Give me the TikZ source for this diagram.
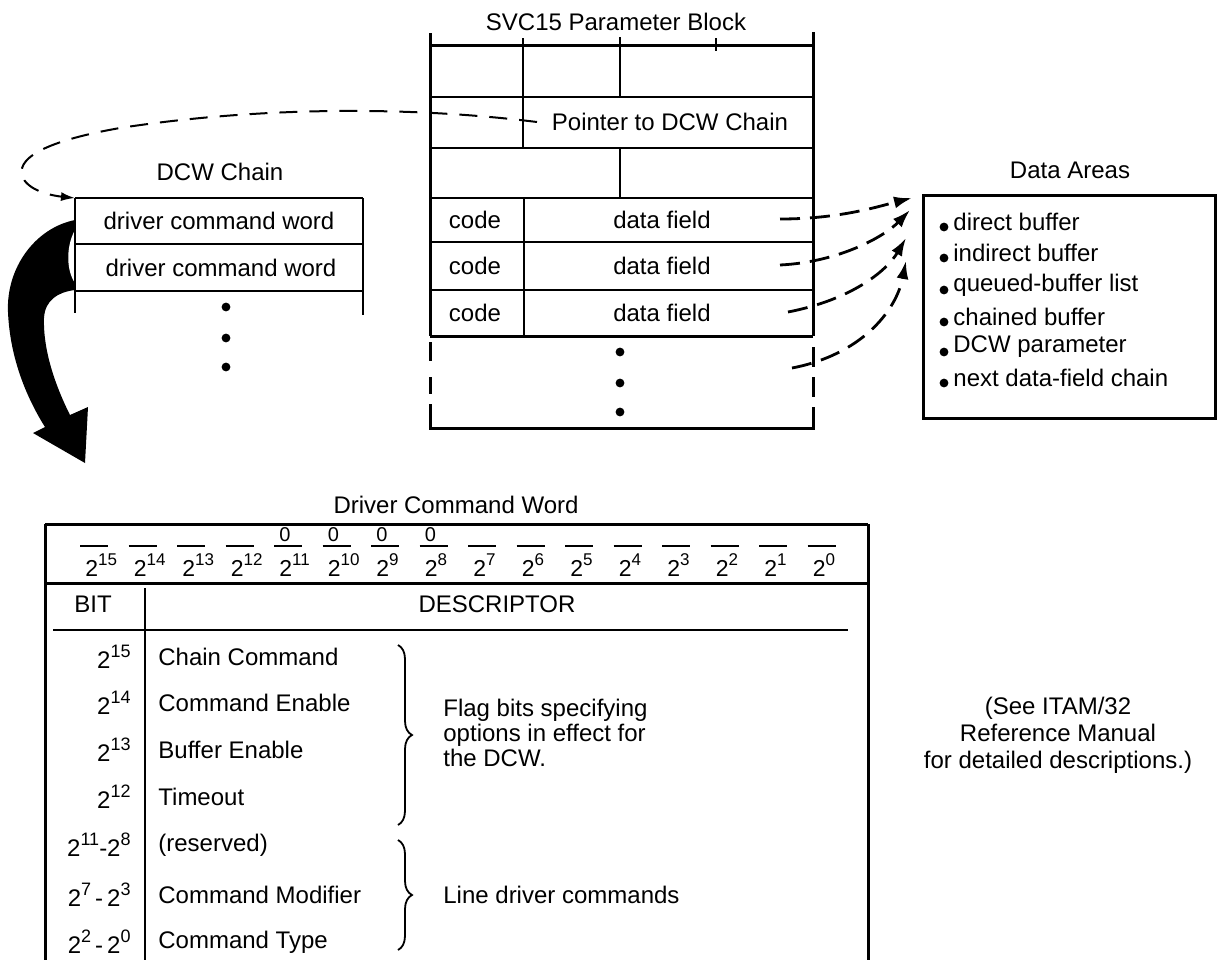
\documentclass[tikz,border=0pt]{standalone}
\usepackage{fontspec}
\setmainfont{Liberation Sans}
\usetikzlibrary{arrows.meta,decorations.pathreplacing}
\newcommand\pw[1]{\raisebox{0.45em}{\fontsize{9}{9}\selectfont #1}}
\newcommand\hw[1]{\raisebox{0.5em}{\fontsize{8.5}{8.5}\selectfont #1}}
\begin{document}
\begin{tikzpicture}[x=0.5pt,y=-0.5pt,
  every node/.style={font=\fontsize{12}{14}\selectfont, inner sep=0pt},
  border/.style={line width=1.5pt},
  inner/.style={line width=1pt},
  dasharrow/.style={line width=1.4pt, dash pattern=on 10pt off 5pt, -{Latex[length=9pt,width=6pt]}},
  ptrarrow/.style={line width=1pt, dash pattern=on 9pt off 6pt, -{Latex[length=7pt,width=4.5pt]}},
  dotmark/.style={fill=black},
  bracestyle/.style={line width=0.9pt, decorate, decoration={brace, amplitude=7pt}}]
\useasboundingbox (0,0) rectangle (1217,960);

% ---------------- SVC15 Parameter Block ----------------
\node (svc) at (616,22) {SVC15 Parameter Block};
\draw[border] (430,33) -- (430,336);
\draw[border] (813,32) -- (813,336);
\draw[border] (430,45) -- (813,45);
\draw[inner] (430,97) -- (813,97);
\draw[inner] (430,148) -- (813,148);
\draw[inner] (430,198) -- (813,198);
\draw[inner] (430,242) -- (813,242);
\draw[inner] (430,290) -- (813,290);
\draw[border] (430,336) -- (813,336);
\draw[inner] (523,38) -- (523,148);
\draw[inner] (620,37) -- (620,97);
\draw[inner] (716,38) -- (716,51);
\draw[inner] (620,148) -- (620,198);
\draw[inner] (524,198) -- (524,336);
% dashed continuation
\draw[border] (430,342) -- (430,361);
\draw[border] (430,377) -- (430,394);
\draw[border] (430,404) -- (430,428) -- (813,428) -- (813,407);
\draw[border] (813,347) -- (813,367);
\draw[border] (813,377) -- (813,397);
\fill[dotmark] (620,352) circle (2.2pt);
\fill[dotmark] (620,383) circle (2.2pt);
\fill[dotmark] (620,412) circle (2.2pt);

\node (ptr) at (670,122) {Pointer to DCW Chain};
\node (c1) at (475,220) {code};
\node (c2) at (475,266) {code};
\node (c3) at (475,313) {code};
\node (d1) at (662,220) {data field};
\node (d2) at (662,266) {data field};
\node (d3) at (662,313) {data field};

% ---------------- DCW Chain ----------------
\node (dcwt) at (220,172) {DCW Chain};
% fat curved arrow
\fill (75,220) .. controls (35,228) and (6,268) .. (8,312)
      .. controls (10,360) and (28,400) .. (45,427) -- (33,433) -- (85,463) -- (88,407) -- (70,415)
      .. controls (55,385) and (43,350) .. (44,318)
      .. controls (45,300) and (58,292) .. (75,290) -- cycle;
\fill[white] (75,230) .. controls (66,246) and (66,270) .. (75,283) -- cycle;
\draw[inner] (75,198) -- (363,198);
\draw[inner] (75,244) -- (363,244);
\draw[inner] (75,291) -- (363,291);
\draw[inner] (75,198) -- (75,313);
\draw[inner] (363,198) -- (363,315);
\node (w1) at (219,221) {driver command word};
\node (w2) at (221,268) {driver command word};
\fill[dotmark] (226,307) circle (2.2pt);
\fill[dotmark] (226,338) circle (2.2pt);
\fill[dotmark] (226,367) circle (2.2pt);

\coordinate (pstart) at (537,122);
\coordinate (chaintop) at (75,198);
\draw[ptrarrow] (pstart) .. controls (400,105) and (250,108) .. (120,128)
   .. controls (40,142) and (15,160) .. (23,178)
   .. controls (30,192) and (55,196) .. (chaintop);

% ---------------- Data Areas ----------------
\node (dat) at (1070,170) {Data Areas};
\node[draw, border, minimum width=146pt, minimum height=111.5pt] (da) at (1069,306.5) {};
\foreach \y/\t [count=\i] in {222/direct buffer, 253/indirect buffer, 285/queued-buffer list,
   317/chained buffer, 347/DCW parameter, 378/next data-field chain}{
  \fill[dotmark] (944,\y+5) circle (2.2pt);
  \node[anchor=west] (item\i) at (953,\y) {\t};
}

\coordinate (s1) at (780,219);
\coordinate (s2) at (780,265);
\coordinate (s3) at (788,312);
\coordinate (s4) at (792,368);
\coordinate (t1) at (912,198);
\coordinate (t2) at (910,210);
\coordinate (t3) at (906,238);
\coordinate (t4) at (906,261);
\draw[dasharrow] (s1) .. controls (840,219) and (880,206) .. (t1);
\draw[dasharrow] (s2) .. controls (840,262) and (885,236) .. (t2);
\draw[dasharrow] (s3) .. controls (850,300) and (886,272) .. (t3);
\draw[dasharrow] (s4) .. controls (860,355) and (896,312) .. (t4);

% ---------------- Driver Command Word ----------------
\node (dcwtitle) at (456,505) {Driver Command Word};
\draw[border] (45,524) -- (868,524);
\draw[border] (45,524) -- (45,960);
\draw[border] (868,524) -- (868,960);
\draw[border] (45,583) -- (868,583);
\foreach \i in {0,...,15}{
  \pgfmathtruncatemacro\e{15-\i}
  \pgfmathsetmacro\xx{91+48.5*\i}
  \node[anchor=west, font=\fontsize{11.5}{12}\selectfont] (b\i) at (\xx-6,565) {2\hw{\e}};
  \draw[inner] (\xx-11,546) -- (\xx+17,546);
}
\foreach \i in {4,5,6,7}{
  \pgfmathsetmacro\xx{91+48.5*\i}
  \node[font=\fontsize{10}{10}\selectfont] (z\i) at (\xx,535) {0};
}
\node (bit) at (93,604) {BIT};
\node (desc) at (497,604) {DESCRIPTOR};
\draw[inner] (53,630) -- (848,630);
\draw[inner] (145,588) -- (145,960);

\foreach \y/\l/\t [count=\i] in {657/2\pw{15}/Chain Command, 703/2\pw{14}/Command Enable,
   750/2\pw{13}/Buffer Enable, 797/2\pw{12}/Timeout, 845/2\pw{11}-2\pw{8}/(reserved),
   895/2\pw{7}\,-\,2\pw{3}/Command Modifier, 942/2\pw{2}\,-\,2\pw{0}/Command Type}{
  \node[anchor=east] (bl\i) at (131,\y) {\l};
  \node[anchor=west] (bd\i) at (158,\y) {\t};
}
\coordinate (br1a) at (398,645);
\coordinate (br1b) at (398,825);
\coordinate (br2a) at (398,840);
\coordinate (br2b) at (398,950);
\draw[bracestyle] (br1a) -- (br1b);
\draw[bracestyle] (br2a) -- (br2b);
\node[anchor=west, align=left, font=\fontsize{12}{12.7}\selectfont] (flag) at (443,733)
  {Flag bits specifying\\options in effect for\\the DCW.};
\node[anchor=west] (line) at (443,895) {Line driver commands};
\node[align=center, font=\fontsize{12}{13.5}\selectfont] (see) at (1058,735)
  {(See ITAM/32\\Reference Manual\\for detailed descriptions.)};
\end{tikzpicture}
\end{document}
